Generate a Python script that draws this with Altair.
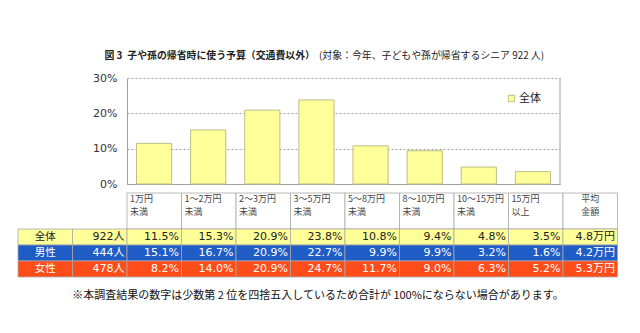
import altair as alt
import pandas as pd

# ---------------- data ----------------
categories = ["1万円\n未満", "1～2万円\n未満", "2～3万円\n未満", "3～5万円\n未満",
              "5～8万円\n未満", "8～10万円\n未満", "10～15万円\n未満", "15万円\n以上"]
groups = ["全体", "男性", "女性"]
counts = ["922人", "444人", "478人"]
total = [11.5, 15.3, 20.9, 23.8, 10.8, 9.4, 4.8, 3.5]
male = [15.1, 16.7, 20.9, 22.7, 9.9, 9.9, 3.2, 1.6]
female = [8.2, 14.0, 20.9, 24.7, 11.7, 9.0, 6.3, 5.2]
averages = ["4.8万円", "4.2万円", "5.3万円"]
avg_header = "平均\n金額"
y_ticks = [0, 10, 20, 30]

title_main = "図 3\u2002子や孫の帰省時に使う予算（交通費以外）"
title_sub = "(対象：今年、子どもや孫が帰省するシニア 922 人)"
footnote = "※本調査結果の数字は少数第 2 位を四捨五入しているため合計が 100%にならない場合があります。"

# ---------------- styling ----------------
FONT_JP = "Noto Sans CJK JP"
FONT_NUM = "DejaVu Sans, Noto Sans CJK JP"
BAR_FILL = "#FFFF99"
BAR_STROKE = "#BDBD88"
GRID = "#A0A0A0"
row_fills = ["#FFFF99", "#1F5CC6", "#FF4D1A"]
row_text = ["#222222", "#FFFFFF", "#FFFFFF"]

W, H = 433, 106
n = len(categories)
COL_W = 54.5      # table column width in px
ROW_H = 16.0      # table row height in px
TABLE_TOP = 115   # px below plot top
HEADER_ROWS = 2.25

# ---------------- bar plot ----------------
xs = alt.Scale(domain=[0, n], nice=False, zero=False)
ys = alt.Scale(domain=[0, 30], nice=False)

y_axis = alt.Axis(
    values=y_ticks, labelExpr="datum.value + '%'", grid=True, gridDash=[2, 2],
    gridColor=GRID, domain=True, domainColor=GRID, ticks=False, labelPadding=10,
    labelFont="DejaVu Sans", labelFontSize=11, labelColor="#333333", title=None)
x_axis = alt.Axis(domain=True, domainColor=GRID, ticks=False, labels=False,
                  grid=False, title=None)

bars_df = pd.DataFrame({"i": list(range(n)), "value": total, "series": groups[0]})
bars_df["x0"] = bars_df["i"] + 0.175
bars_df["x1"] = bars_df["i"] + 0.825
bars_df["zero"] = 0.0

bars = alt.Chart(bars_df).mark_bar(stroke=BAR_STROKE, strokeWidth=1).encode(
    x=alt.X("x0:Q", scale=xs, axis=x_axis),
    x2="x1:Q",
    y=alt.Y("zero:Q", scale=ys, axis=y_axis),
    y2="value:Q",
    fill=alt.Fill("series:N", scale=alt.Scale(domain=[groups[0]], range=[BAR_FILL]),
                  legend=alt.Legend(orient="none", legendX=379, legendY=15, title=None,
                                    symbolType="square", symbolSize=40,
                                    symbolStrokeColor=BAR_STROKE, symbolStrokeWidth=1,
                                    labelFont=FONT_JP, labelFontSize=11,
                                    labelColor="#222222", labelOffset=2, padding=0)),
)

frame_df = pd.DataFrame({"x": [n], "y": [0], "y2": [30]})
frame = alt.Chart(frame_df).mark_rule(color=GRID, strokeWidth=1).encode(
    x=alt.X("x:Q", scale=xs, axis=x_axis),
    y=alt.Y("y:Q", scale=ys, axis=y_axis), y2="y2:Q",
)

plot = alt.layer(bars, frame)

# ---------------- table ----------------
txs = alt.Scale(domain=[0, W / COL_W], nice=False, zero=False)
lo = -TABLE_TOP / ROW_H
tys = alt.Scale(domain=[lo, lo + H / ROW_H], nice=False, zero=False, reverse=True)
kinds = ["header"] + groups
fill_scale = alt.Scale(domain=kinds, range=["#FFFFFF"] + row_fills)

cells = []
for c in range(n + 1):
    cells.append({"x": c, "x2": c + 1, "y": 0, "y2": HEADER_ROWS, "kind": "header"})
for r, g in enumerate(groups):
    for c in range(-2, n + 1):
        cells.append({"x": c, "x2": c + 1, "y": HEADER_ROWS + r,
                      "y2": HEADER_ROWS + r + 1, "kind": g})
cells_df = pd.DataFrame(cells)

cell_rects = alt.Chart(cells_df).mark_rect(stroke="#A8A8A8", strokeWidth=0.8).encode(
    x=alt.X("x:Q", scale=txs, axis=None), x2="x2:Q",
    y=alt.Y("y:Q", scale=tys, axis=None), y2="y2:Q",
    fill=alt.Fill("kind:N", scale=fill_scale, legend=None),
)

head_df = pd.DataFrame({"x": list(range(n)), "label": categories, "y": 0})
head_text = alt.Chart(head_df).mark_text(
    align="left", baseline="top", dx=3, dy=2, lineBreak="\n", lineHeight=13,
    font=FONT_JP, fontSize=9, color="#444444").encode(
    x=alt.X("x:Q", scale=txs, axis=None),
    y=alt.Y("y:Q", scale=tys, axis=None),
    text="label:N",
)

avg_head_df = pd.DataFrame({"x": [n + 0.5], "label": [avg_header], "y": [0]})
avg_head_text = alt.Chart(avg_head_df).mark_text(
    align="center", baseline="top", dy=2, lineBreak="\n", lineHeight=13,
    font=FONT_JP, fontSize=9, color="#444444").encode(
    x=alt.X("x:Q", scale=txs, axis=None),
    y=alt.Y("y:Q", scale=tys, axis=None),
    text="label:N",
)

text_color_scale = alt.Scale(domain=groups, range=row_text)

lab_df = pd.DataFrame({"x": [-1.5] * len(groups), "label": groups, "kind": groups,
                       "y": [HEADER_ROWS + r + 0.5 for r in range(len(groups))]})
lab_text = alt.Chart(lab_df).mark_text(
    align="center", baseline="middle", font=FONT_JP, fontSize=10.5).encode(
    x=alt.X("x:Q", scale=txs, axis=None),
    y=alt.Y("y:Q", scale=tys, axis=None),
    text="label:N",
    color=alt.Color("kind:N", scale=text_color_scale, legend=None),
)

vals = []
series = [total, male, female]
for r, g in enumerate(groups):
    yy = HEADER_ROWS + r + 0.5
    vals.append({"x": 0, "label": counts[r], "kind": g, "y": yy})
    for c, v in enumerate(series[r]):
        vals.append({"x": c + 1, "label": f"{v:.1f}%", "kind": g, "y": yy})
    vals.append({"x": n + 1, "label": averages[r], "kind": g, "y": yy})
vals_df = pd.DataFrame(vals)
val_text = alt.Chart(vals_df).mark_text(
    align="right", baseline="middle", dx=-2.5, font=FONT_NUM, fontSize=11).encode(
    x=alt.X("x:Q", scale=txs, axis=None),
    y=alt.Y("y:Q", scale=tys, axis=None),
    text="label:N",
    color=alt.Color("kind:N", scale=text_color_scale, legend=None),
)

table = alt.layer(cell_rects, head_text, avg_head_text, lab_text, val_text)

# ---------------- titles ----------------
t1 = alt.Chart(pd.DataFrame({"t": [title_main]})).mark_text(
    align="right", baseline="middle", font=FONT_JP, fontSize=9.9, fontWeight="bold",
    color="#222222").encode(x=alt.value(188), y=alt.value(-22), text="t:N")
t2 = alt.Chart(pd.DataFrame({"t": [title_sub]})).mark_text(
    align="left", baseline="middle", font=FONT_JP, fontSize=9.9,
    color="#222222").encode(x=alt.value(192), y=alt.value(-22), text="t:N")
fn = alt.Chart(pd.DataFrame({"t": [footnote]})).mark_text(
    align="center", baseline="middle", font=FONT_JP, fontSize=11,
    color="#111111").encode(x=alt.value(191), y=alt.value(218), text="t:N")

chart = alt.layer(plot, table, t1, t2, fn).resolve_scale(
    x="independent", y="independent", fill="independent", color="independent"
).properties(
    width=W, height=H,
    padding={"left": 127, "top": 78, "right": 80, "bottom": 149},
    autosize=alt.AutoSizeParams(type="none"),
    background="white",
).configure_view(stroke=None)

chart.save("out.html", embed_options={"renderer": "svg", "actions": False})
